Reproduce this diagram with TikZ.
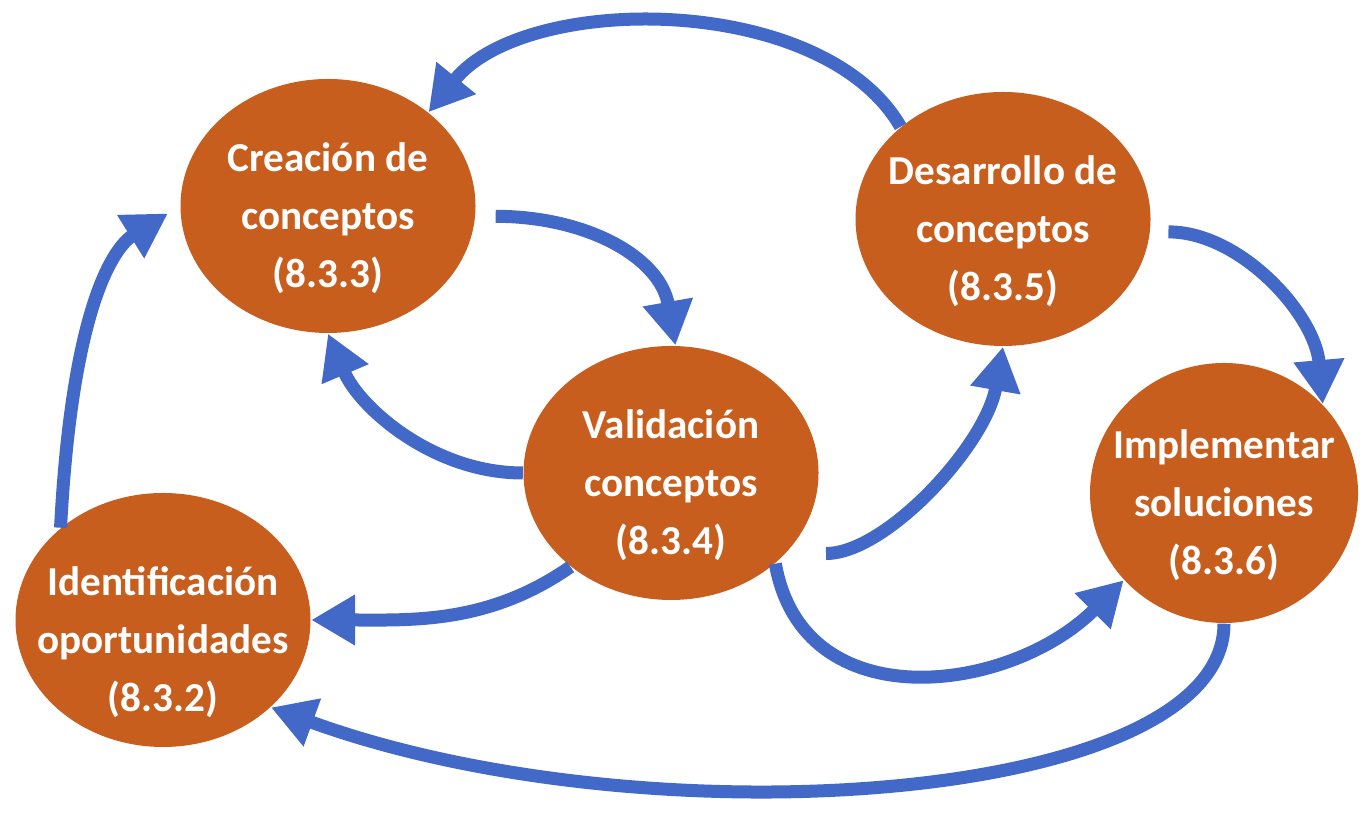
\documentclass[tikz,border=0pt]{standalone}
\usepackage{fontspec}
\setmainfont{Carlito}
\usepackage{xcolor}
\definecolor{stageorange}{RGB}{200,94,30}
\definecolor{flowblue}{RGB}{66,104,200}
\usetikzlibrary{shapes, arrows.meta}
\tikzset{
        stage/.style={ellipse, fill=stageorange, minimum width=2.95cm, minimum height=2.54cm, inner sep=0pt},
        stagetext/.style={text=white, font=\bfseries\fontsize{11.7}{16.5}\selectfont, align=center, yshift=-0.12cm},
        flow/.style={draw=flowblue, line width=0.13cm, -{Triangle[length=0.44cm, width=0.48cm]}},
    }

\begin{document}
\begin{tikzpicture}
\useasboundingbox (0,0) rectangle (13.6,8.15);
\node[stage, label={[stagetext]center:{Creación de\\conceptos\\(8.3.3)}}] (creacion) at (3.28,6.09) {};
\node[stage, label={[stagetext]center:{Desarrollo de\\conceptos\\(8.3.5)}}] (desarrollo) at (10.03,5.96) {};
\node[stage, label={[stagetext]center:{Validación\\conceptos\\(8.3.4)}}] (validacion) at (6.71,3.42) {};
\node[stage, minimum width=2.68cm, minimum height=2.6cm, label={[stagetext]center:{Implementar\\soluciones\\(8.3.6)}}] (implementar) at (12.24,3.22) {};
\node[stage, label={[stagetext, yshift=-0.1cm]center:{Identificación\\oportunidades\\(8.3.2)}}] (identificacion) at (1.63,1.95) {};
\draw[flow] (desarrollo.138) .. controls +(120:1.55) and +(51:1.55) .. (creacion.43);
\draw[flow, shorten <=0.2cm] (creacion.-4) .. controls +(0:1.1) and +(100:0.9) .. (validacion.88);
\draw[flow] (validacion.180) .. controls +(180:0.9) and +(-67:0.8) .. (creacion.270);
\draw[flow] (validacion.223) .. controls +(215:1.0) and +(0:1.0) .. (identificacion.east);
\draw[flow, shorten >=0.14cm] (identificacion.138) .. controls +(87:2.4) and +(212:0.7) .. (creacion.west);
\draw[flow, shorten <=0.4cm] (validacion.-35) .. controls +(0:1.0) and +(260:1.0) .. (desarrollo.270);
\draw[flow, shorten <=0.18cm] (desarrollo.-5) .. controls +(0:0.9) and +(95:0.9) .. (implementar.42);
\draw[flow] (validacion.-41) .. controls +(-80:1.6) and +(225:1.6) .. (implementar.221);
\draw[flow] (implementar.270) .. controls +(-90:1.8) and +(-20:4.0) .. (identificacion.-39);
\end{tikzpicture}
\end{document}
